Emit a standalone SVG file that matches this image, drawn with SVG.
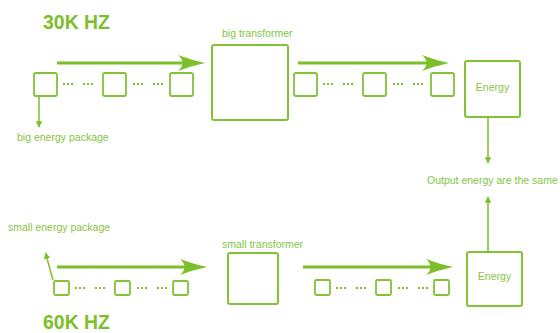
<svg xmlns="http://www.w3.org/2000/svg" width="560" height="333" viewBox="0 0 560 333">
<defs>
<style>
.box{fill:none;stroke:#82c235;stroke-width:2;}
.pk{fill:none;stroke:#82c235;stroke-width:1.8;}
.ln{stroke:#7cbf2b;stroke-width:3;fill:none;}
.thin{stroke:#82c235;stroke-width:1.6;fill:none;}
.dots{stroke:#7cbf2b;stroke-width:2;stroke-dasharray:2 2;fill:none;}
.head{fill:#7cbf2b;}
.t{font-family:"Liberation Sans",Arial,sans-serif;fill:#86c43f;font-size:10.5px;}
.big{font-family:"Liberation Sans",Arial,sans-serif;fill:#7cbf2b;font-size:21px;font-weight:bold;}
</style>
<marker id="ah" viewBox="0 0 10 10" refX="9" refY="5" markerWidth="4" markerHeight="4.5" orient="auto" markerUnits="strokeWidth">
<path d="M0,0 L10,5 L0,10 Z" fill="#7cbf2b"/>
</marker>
</defs>

<text class="big" x="43" y="29" textLength="67" lengthAdjust="spacingAndGlyphs">30K HZ</text>
<text class="big" x="43" y="329" textLength="67" lengthAdjust="spacingAndGlyphs">60K HZ</text>

<g id="connectors">
<line class="ln" x1="57" y1="63" x2="192" y2="63"/>
<path class="head" d="M205,63 Q191,60 178,55 Q187,63 178,71 Q191,66 205,63 Z"/>
<line class="ln" x1="298" y1="63" x2="436" y2="63"/>
<path class="head" d="M449,63 Q435,60 422,55 Q431,63 422,71 Q435,66 449,63 Z"/>
<line class="ln" x1="57" y1="267" x2="194" y2="267"/>
<path class="head" d="M207,267 Q193,264 180,259 Q189,267 180,275 Q193,270 207,267 Z"/>
<line class="ln" x1="303" y1="267" x2="440" y2="267"/>
<path class="head" d="M453,267 Q439,264 426,259 Q435,267 426,275 Q439,270 453,267 Z"/>
<line class="thin" x1="39" y1="96" x2="39" y2="127" marker-end="url(#ah)"/>
<line class="thin" x1="53" y1="280" x2="45.5" y2="253" marker-end="url(#ah)"/>
<line class="thin" x1="488" y1="117" x2="488" y2="163" marker-end="url(#ah)"/>
<line class="thin" x1="488" y1="252" x2="488" y2="197" marker-end="url(#ah)"/>
<line class="dots" x1="63" y1="84" x2="73" y2="84"/>
<line class="dots" x1="83" y1="84" x2="93" y2="84"/>
<line class="dots" x1="133" y1="84" x2="143" y2="84"/>
<line class="dots" x1="153" y1="84" x2="163" y2="84"/>
<line class="dots" x1="323" y1="84" x2="333" y2="84"/>
<line class="dots" x1="343" y1="84" x2="353" y2="84"/>
<line class="dots" x1="393" y1="84" x2="403" y2="84"/>
<line class="dots" x1="413" y1="84" x2="423" y2="84"/>
<line class="dots" x1="75" y1="288" x2="85" y2="288"/>
<line class="dots" x1="95" y1="288" x2="105" y2="288"/>
<line class="dots" x1="137" y1="288" x2="147" y2="288"/>
<line class="dots" x1="157" y1="288" x2="167" y2="288"/>
<line class="dots" x1="336" y1="288" x2="346" y2="288"/>
<line class="dots" x1="356" y1="288" x2="366" y2="288"/>
<line class="dots" x1="398" y1="288" x2="408" y2="288"/>
<line class="dots" x1="418" y1="288" x2="428" y2="288"/>
</g>

<g id="top-packages">
<rect class="pk" x="34" y="73" width="23" height="23" rx="2"/>
<rect class="pk" x="103" y="73" width="23" height="23" rx="2"/>
<rect class="pk" x="170" y="73" width="23" height="23" rx="2"/>
<rect class="pk" x="294" y="73" width="23" height="23" rx="2"/>
<rect class="pk" x="363" y="73" width="23" height="23" rx="2"/>
<rect class="pk" x="431" y="73" width="23" height="23" rx="2"/>
</g>
<g id="bottom-packages">
<rect class="pk" x="54" y="281" width="15" height="14" rx="1.5"/>
<rect class="pk" x="115" y="281" width="15" height="14" rx="1.5"/>
<rect class="pk" x="173" y="281" width="15" height="14" rx="1.5"/>
<rect class="pk" x="315" y="280" width="15" height="15" rx="1.5"/>
<rect class="pk" x="376" y="280" width="15" height="15" rx="1.5"/>
<rect class="pk" x="434" y="280" width="15" height="15" rx="1.5"/>
</g>

<g id="big-transformer">
<rect class="box" x="212" y="45" width="76" height="75" rx="2"/>
<text class="t" x="222" y="37">big transformer</text>
</g>
<g id="small-transformer">
<rect class="box" x="228" y="253" width="50" height="51" rx="2"/>
<text class="t" x="222" y="248">small transformer</text>
</g>
<g id="energy-top">
<rect class="box" x="465" y="61" width="55" height="56" rx="2"/>
<text class="t" x="492.5" y="91" text-anchor="middle">Energy</text>
</g>
<g id="energy-bottom">
<rect class="box" x="467" y="252" width="55" height="54" rx="2"/>
<text class="t" x="494.5" y="280" text-anchor="middle">Energy</text>
</g>
<g id="labels">
<text class="t" x="17" y="141">big energy package</text>
<text class="t" x="8" y="231">small energy package</text>
<text class="t" x="427" y="184">Output energy are the same</text>
</g>
</svg>
